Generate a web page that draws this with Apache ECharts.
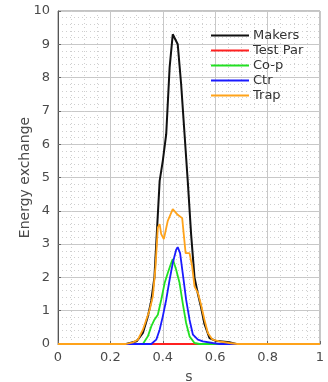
<!DOCTYPE html>
<html>
<head>
<meta charset="utf-8">
<script src="https://cdn.jsdelivr.net/npm/echarts@6/dist/echarts.min.js"></script>
<style>
  html, body { margin: 0; padding: 0; background: #fff; }
  #chart { width: 328px; height: 382px; }
</style>
</head>
<body>
<div id="chart"></div>
<script>
const seriesNames = ['Makers', 'Test Par', 'Co-p', 'Ctr', 'Trap'];
const seriesColors = ['#111111', '#ff2020', '#22e022', '#1a1aff', '#ffa31a'];

const makersX = [0, 0.26, 0.30, 0.324, 0.343, 0.356, 0.368, 0.377, 0.388, 0.40, 0.413, 0.426, 0.438, 0.457, 0.47, 0.483, 0.496, 0.508, 0.521, 0.534, 0.546, 0.559, 0.578, 0.60, 0.654, 0.68, 1];
const makersY = [0, 0, 0.08, 0.33, 0.83, 1.3, 2.0, 3.3, 4.9, 5.5, 6.3, 8.3, 9.3, 9.0, 7.8, 6.3, 4.8, 3.3, 2.0, 1.5, 1.1, 0.6, 0.18, 0.1, 0.05, 0, 0];

const testParX = [0, 1];
const testParY = [0, 0];

const copX = [0, 0.324, 0.343, 0.356, 0.368, 0.381, 0.394, 0.407, 0.419, 0.432, 0.438, 0.451, 0.464, 0.476, 0.489, 0.502, 0.521, 0.54, 1];
const copY = [0, 0, 0.23, 0.53, 0.73, 0.88, 1.33, 1.83, 2.13, 2.43, 2.55, 2.23, 1.83, 1.23, 0.63, 0.23, 0.03, 0, 0];

const ctrX = [0, 0.356, 0.375, 0.388, 0.40, 0.413, 0.426, 0.438, 0.451, 0.457, 0.466, 0.476, 0.489, 0.502, 0.515, 0.534, 0.553, 0.59, 0.616, 1];
const ctrY = [0, 0, 0.13, 0.43, 0.83, 1.33, 1.93, 2.43, 2.83, 2.91, 2.73, 2.13, 1.33, 0.73, 0.28, 0.13, 0.08, 0.03, 0, 0];

const trapX = [0, 0.26, 0.286, 0.305, 0.324, 0.337, 0.35, 0.362, 0.372, 0.381, 0.388, 0.394, 0.404, 0.419, 0.438, 0.457, 0.474, 0.487, 0.502, 0.512, 0.521, 0.534, 0.546, 0.559, 0.572, 0.59, 0.616, 0.654, 0.686, 1];
const trapY = [0, 0, 0.05, 0.13, 0.43, 0.73, 1.03, 1.43, 2.3, 3.5, 3.6, 3.3, 3.15, 3.7, 4.05, 3.88, 3.78, 2.73, 2.73, 2.33, 1.73, 1.53, 1.18, 0.73, 0.33, 0.13, 0.08, 0.03, 0, 0];

const allX = [makersX, testParX, copX, ctrX, trapX];
const allY = [makersY, testParY, copY, ctrY, trapY];

const chart = echarts.init(document.getElementById('chart'), null, { renderer: 'canvas' });

const labelColor = '#4a4a4a';
const majorGrid = { show: true, lineStyle: { color: '#c8c8c8', width: 1, type: 'solid' } };
const minorGrid = { show: true, lineStyle: { color: '#cfcfcf', width: 1, type: [1, 3] } };

chart.setOption({
  animation: false,
  backgroundColor: '#ffffff',
  textStyle: { fontFamily: 'DejaVu Sans' },
  grid: {
    left: 58,
    right: 8,
    top: 11,
    bottom: 38,
    show: true,
    borderColor: '#888888',
    borderWidth: 1,
    containLabel: false,
    outerBoundsMode: 'none',
  },
  legend: {
    orient: 'vertical',
    left: 206,
    top: 24,
    itemWidth: 38,
    itemHeight: 2,
    itemGap: 2,
    icon: 'rect',
    textStyle: { color: '#333333', fontSize: 13, padding: [0, 0, 0, -1] },
    data: seriesNames,
  },
  xAxis: {
    type: 'value',
    min: 0,
    max: 1,
    interval: 0.2,
    name: 's',
    nameLocation: 'middle',
    nameGap: 26,
    nameMoveOverlap: false,
    nameTextStyle: { color: labelColor, fontSize: 14 },
    axisLine: { show: true, lineStyle: { color: '#666666' } },
    axisTick: { show: true, inside: true, length: 3, lineStyle: { color: '#666666' } },
    axisLabel: {
      color: labelColor,
      fontSize: 13,
      margin: 7,
      formatter: (v) => String(+v.toFixed(1)),
    },
    splitLine: majorGrid,
    minorTick: { show: false, splitNumber: 4 },
    minorSplitLine: minorGrid,
  },
  yAxis: {
    type: 'value',
    min: 0,
    max: 10,
    interval: 1,
    name: 'Energy exchange',
    nameLocation: 'middle',
    nameGap: 26,
    nameMoveOverlap: false,
    nameTextStyle: { color: labelColor, fontSize: 14 },
    axisLine: { show: true, lineStyle: { color: '#555555' } },
    axisTick: { show: true, inside: true, length: 3, lineStyle: { color: '#666666' } },
    axisLabel: { color: labelColor, fontSize: 13, margin: 8 },
    splitLine: majorGrid,
    minorTick: { show: false, splitNumber: 5 },
    minorSplitLine: minorGrid,
  },
  series: seriesNames.map((name, i) => ({
    name,
    type: 'line',
    data: allX[i].map((x, j) => [x, allY[i][j]]),
    showSymbol: false,
    symbol: 'none',
    z: 2 + i,
    lineStyle: { color: seriesColors[i], width: i === 0 ? 2 : 1.8 },
    itemStyle: { color: seriesColors[i] },
  })),
});
</script>
</body>
</html>
